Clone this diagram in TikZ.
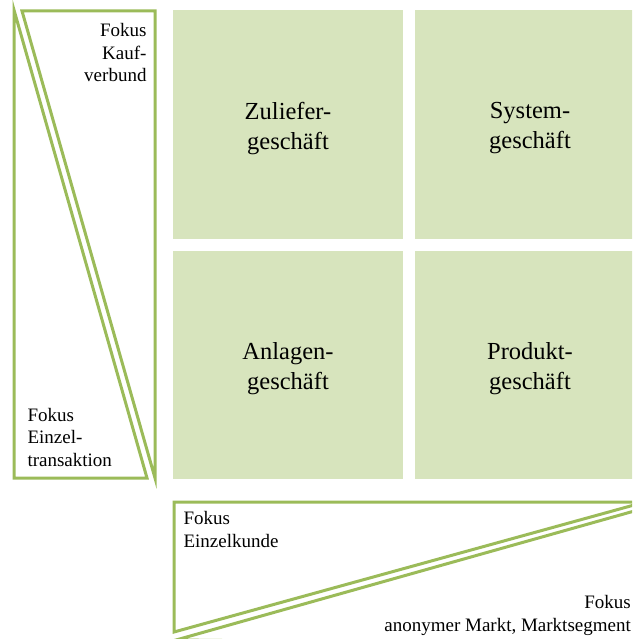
\documentclass[tikz,border=0pt]{standalone}
\usepackage{fontspec}
\setmainfont{Liberation Serif}
\definecolor{triline}{HTML}{9BBB59}
\definecolor{cellfill}{HTML}{D7E4BD}
\begin{document}
\begin{tikzpicture}[x=1pt,y=-1pt,
  tri/.style={draw=triline, line width=3pt, line join=miter},
  cell/.style={fill=cellfill, draw=none, minimum width=230pt, inner sep=0pt},
  celltxt/.style={inner sep=0pt, align=center, font=\fontsize{24.5}{30}\selectfont},
  lbl/.style={inner sep=0pt, font=\fontsize{19}{22.5}\selectfont}]
\useasboundingbox (0,0) rectangle (632,639);
\clip (0,0) rectangle (632,639);

% four business types
\node[cell, minimum height=229pt] (zul) at (288,124.5) {};
\node[cell, minimum height=229pt] (sys) at (530,124.5) {};
\node[cell, minimum height=228pt] (anl) at (288,365) {};
\node[cell, minimum height=228pt] (pro) at (530,365) {};
\node[celltxt] (zult) at ([yshift=-4pt]zul.center) {Zuliefer-\\geschäft};
\node[celltxt] (syst) at ([yshift=-4pt]sys.center) {System-\\geschäft};
\node[celltxt] (anlt) at ([yshift=-4pt]anl.center) {Anlagen-\\geschäft};
\node[celltxt] (prot) at ([yshift=-4pt]pro.center) {Produkt-\\geschäft};

% vertical wedge pair
\draw[tri] (14,10) -- (14,478) -- (147,478) -- cycle;
\draw[tri] (22,11) -- (155,11) -- (155,478) -- cycle;

% horizontal wedge pair
\draw[tri] (174,502) -- (645,502) -- (174,632) -- cycle;
\draw[tri] (176,640) -- (645,508) -- (645,645) -- cycle;

% wedge captions (anchored at the baseline of the last line)
\node[lbl, align=right, anchor=base east] (kauf) at (146.7,81.7) {Fokus\\Kauf-\\verbund};
\node[lbl, align=left, anchor=base west] (einzt) at (27.3,466) {Fokus\\Einzel-\\transaktion};
\node[lbl, align=left, anchor=base west] (einzk) at (183.3,547.3) {Fokus\\Einzelkunde};
\node[lbl, align=right, anchor=base east] (anon) at (631,631) {Fokus\\anonymer Markt, Marktsegment};
\end{tikzpicture}
\end{document}
